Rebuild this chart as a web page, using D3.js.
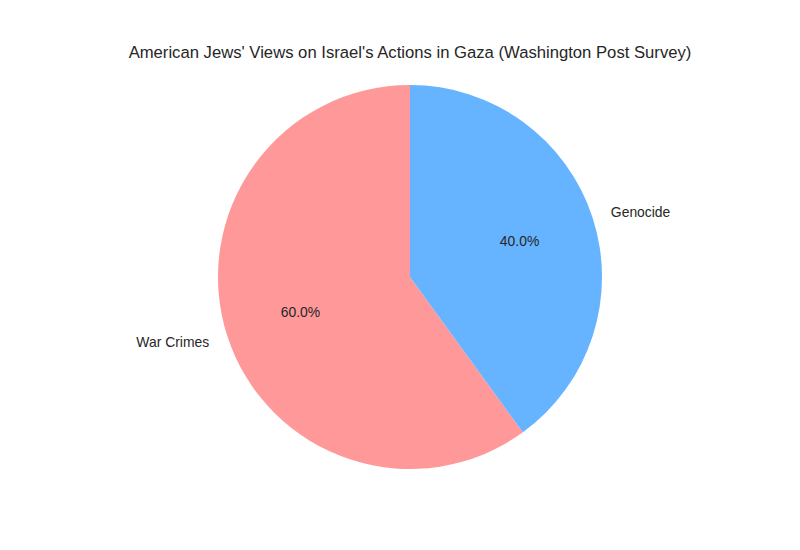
<!DOCTYPE html>
<html>
<head>
<meta charset="utf-8">
<script src="https://cdn.jsdelivr.net/npm/d3@7"></script>
<style>
html,body{margin:0;padding:0;background:#fff;}
svg{display:block;}
text{font-family:"Liberation Sans",Arial,sans-serif;fill:#262626;}
</style>
</head>
<body>
<svg id="chart" width="800" height="550"></svg>
<script>
const categories = ["War Crimes", "Genocide"];
const values = [60, 40];
const colors = ["#ff9999", "#66b3ff"];
const title = "American Jews' Views on Israel's Actions in Gaza (Washington Post Survey)";

const W = 800, H = 550;
const cx = 410, cy = 277, R = 192;
const svg = d3.select("#chart");

svg.append("text")
  .attr("x", cx).attr("y", 58)
  .attr("text-anchor", "middle")
  .style("font-size", "16.67px")
  .text(title);

const data = categories.map((c, i) => ({cat: c, val: values[i], color: colors[i]}));
const total = d3.sum(values);

// matplotlib: startangle 90, counterclockwise. d3 angles: clockwise from 12 o'clock.
const pie = d3.pie().value(d => d.val).sort(null)
  .startAngle(0).endAngle(-2 * Math.PI);
const arcs = pie(data);
const arc = d3.arc().innerRadius(0).outerRadius(R);

const g = svg.append("g").attr("transform", `translate(${cx},${cy})`);
g.selectAll("path").data(arcs).enter().append("path")
  .attr("d", arc)
  .attr("fill", d => d.data.color);

function pos(d, r) {
  const a = (d.startAngle + d.endAngle) / 2;
  return [r * Math.sin(a), -r * Math.cos(a)];
}

g.selectAll("text.lab").data(arcs).enter().append("text")
  .attr("class", "lab")
  .attr("x", d => pos(d, R * 1.1)[0])
  .attr("y", d => pos(d, R * 1.1)[1])
  .attr("dy", "0.35em")
  .attr("text-anchor", d => pos(d, 1)[0] < 0 ? "end" : "start")
  .style("font-size", "13.9px")
  .text(d => d.data.cat);

g.selectAll("text.pct").data(arcs).enter().append("text")
  .attr("class", "pct")
  .attr("x", d => pos(d, R * 0.6)[0])
  .attr("y", d => pos(d, R * 0.6)[1])
  .attr("dy", "0.35em")
  .attr("text-anchor", "middle")
  .style("font-size", "13.9px")
  .text(d => (d.data.val / total * 100).toFixed(1) + "%");
</script>
</body>
</html>
